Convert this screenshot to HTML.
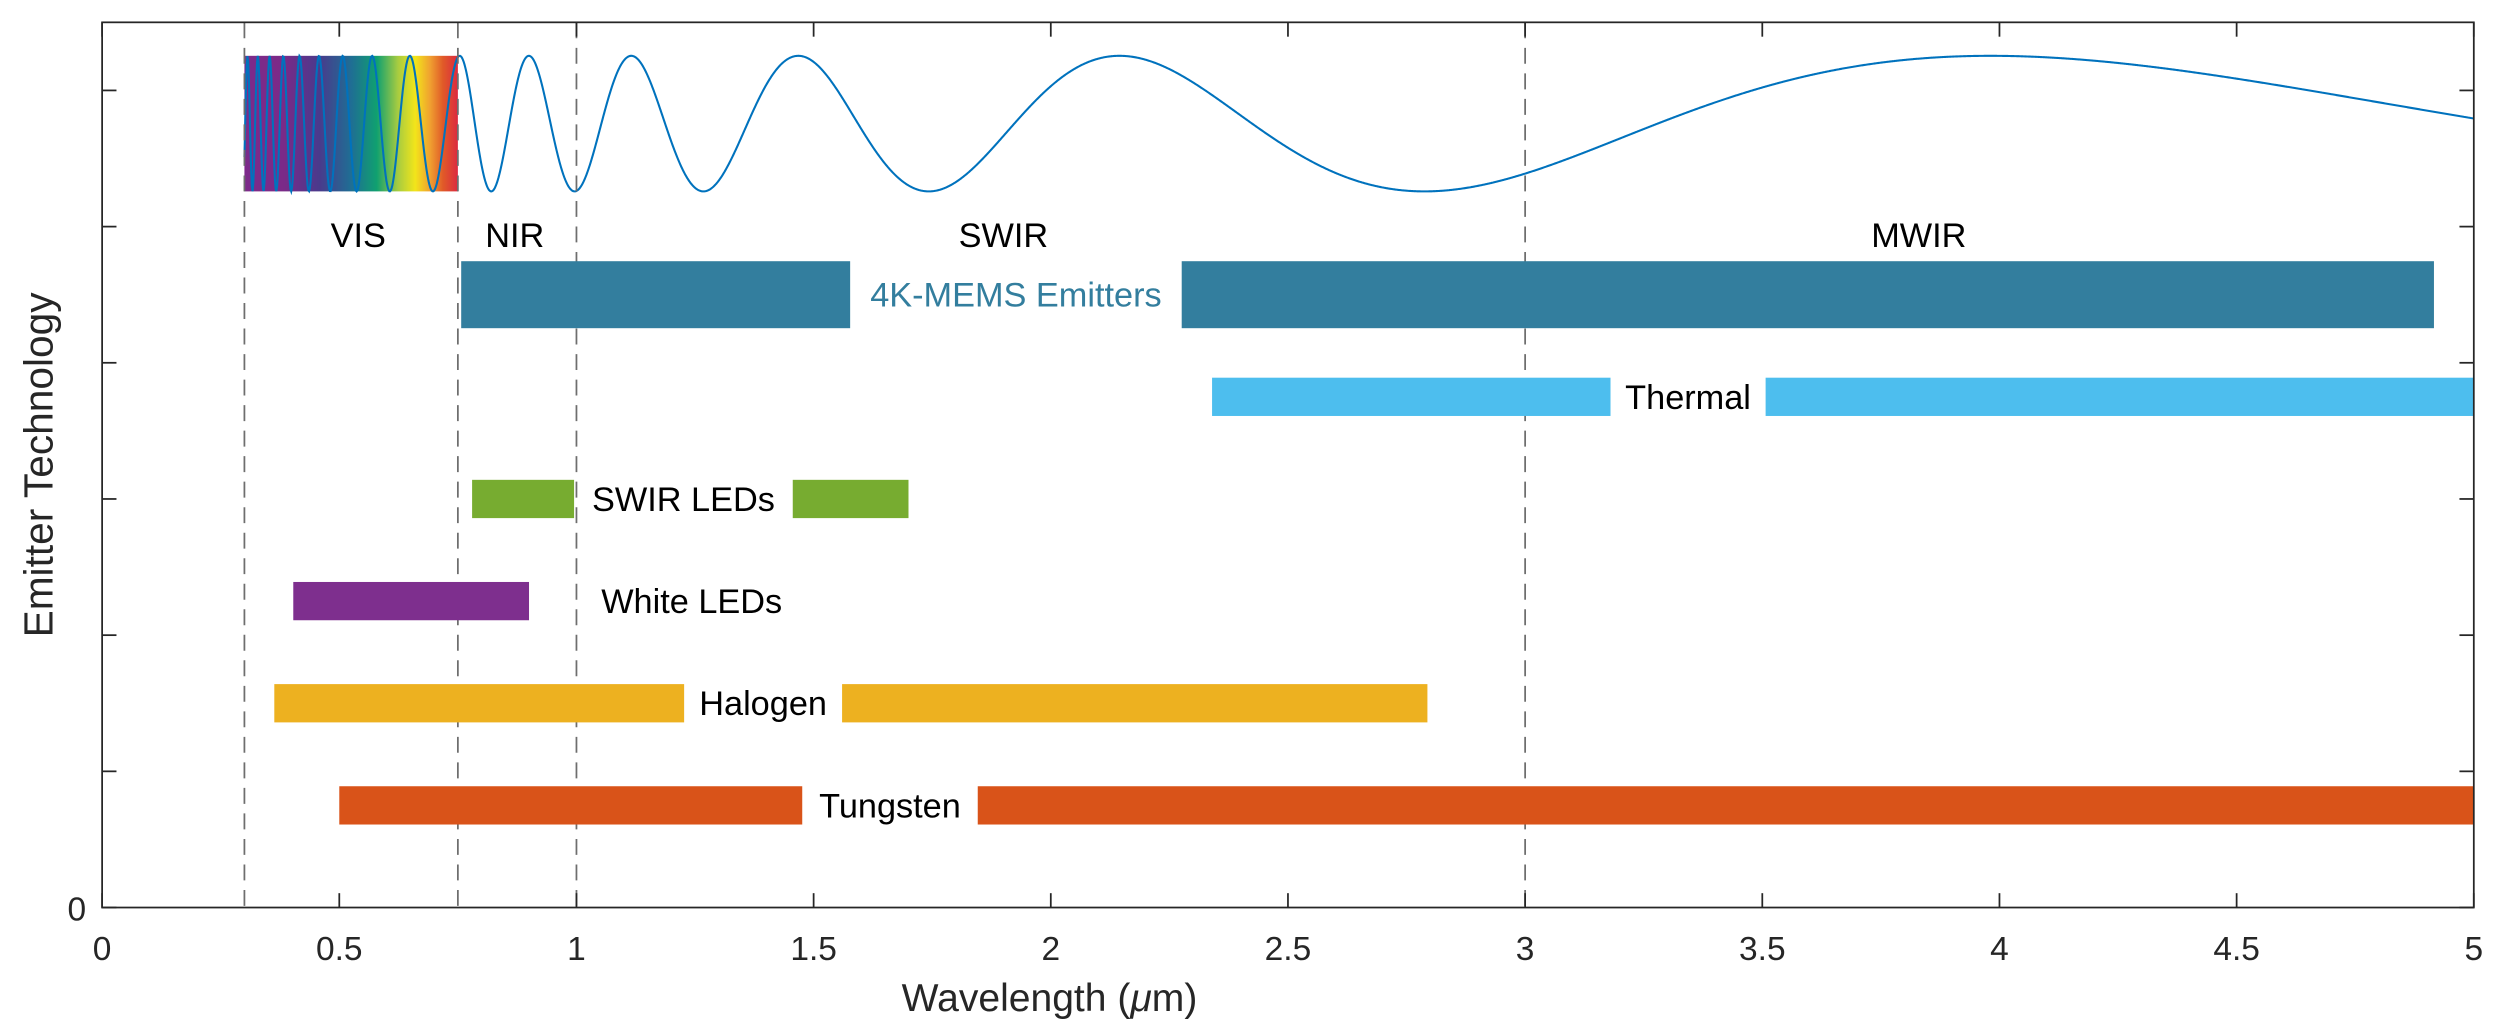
<!DOCTYPE html>
<html><head><meta charset="utf-8"><style>
html,body{margin:0;padding:0;background:#fff}
svg{display:block;font-family:"Liberation Sans","DejaVu Sans",sans-serif}
</style></head><body>
<svg id="chart" width="2500" height="1034" viewBox="0 0 1567.4 648.3" xmlns="http://www.w3.org/2000/svg">
<defs>
<linearGradient id="spec" x1="0" x2="1" y1="0" y2="0">
<stop offset="0" stop-color="#7d2a8a"/><stop offset="0.18" stop-color="#7b2a88"/>
<stop offset="0.35" stop-color="#4a3a8c"/><stop offset="0.5" stop-color="#1f6e94"/>
<stop offset="0.62" stop-color="#10a070"/><stop offset="0.72" stop-color="#a8cc40"/>
<stop offset="0.8" stop-color="#f2e51a"/><stop offset="0.87" stop-color="#f0a030"/>
<stop offset="0.93" stop-color="#e05a28"/><stop offset="1" stop-color="#dc2a40"/>
</linearGradient>
</defs>
<g id="plot"></g>
</svg>
<script>
const regionNames=["VIS","NIR","SWIR","MWIR"];
const regionLabelX=[0.54,0.87,1.9,3.83];
const boundaries=[0.3,0.75,1,3];
const techNames=["Tungsten","Halogen","White LEDs","SWIR LEDs","Thermal","4K-MEMS Emitters"];
const techLevel=[0.75,1.5,2.25,3.0,3.75,4.5];
const techStart1=[0.5,0.363,0.403,0.78,2.34,0.757];
const techEnd1=[1.476,1.227,0.9,0.995,3.18,1.577];
const techStart2=[1.846,1.56,null,1.456,3.507,2.276];
const techEnd2=[5,2.794,null,1.70,5,4.916];
const techColors=["#d95319","#edb120","#7e2f8e","#77ac30","#4dbeee","#337e9e"];
const xTicks=[0,0.5,1,1.5,2,2.5,3,3.5,4,4.5,5];
const xTickLabels=["0","0.5","1","1.5","2","2.5","3","3.5","4","4.5","5"];
const yTicks=[0,1,2,3,4,5,6];

const L=64,R=1551,T=14,B=569,YMAX=6.5;
const sx=v=>L+(R-L)*v/5, sy=v=>B-(B-T)*v/YMAX;
const NS="http://www.w3.org/2000/svg";
const g=document.getElementById('plot');
function mk(tag,attrs,parent){const e=document.createElementNS(NS,tag);for(const k in attrs)e.setAttribute(k,attrs[k]);(parent||g).appendChild(e);return e;}

let sp=mk('rect',{x:sx(0.3),y:35,width:sx(0.75)-sx(0.3),height:85,fill:'url(#spec)'});



let d='';
for(let i=0;i<=3000;i++){const lam=0.3+4.7*i/3000;const ph=4.65/lam-0.168;const y=77.5-42.5*Math.cos(2*Math.PI*ph);d+=(i?'L':'M')+sx(lam).toFixed(2)+','+y.toFixed(2);}
let wv=mk('path',{d:d,fill:'none',stroke:'#0072bd','stroke-width':1.3});



boundaries.forEach(b=>{
 let l=mk('line',{x1:sx(b),x2:sx(b),y1:T,y2:B,stroke:'#6e6e6e','stroke-width':1.1,'stroke-dasharray':'10,6'});
 
 
});
regionNames.forEach((n,i)=>{
 let t=mk('text',{x:sx(regionLabelX[i]),y:155,'font-size':21.5,'text-anchor':'middle',fill:'#000'});t.textContent=n;
 
 
});

techNames.forEach((n,i)=>{
 const h=i==5?42:24, yc=sy(techLevel[i]);
 let b1=mk('rect',{x:sx(techStart1[i]),y:yc-h/2,width:sx(techEnd1[i])-sx(techStart1[i]),height:h,fill:techColors[i]});
 
 
 let lx;
 if(techStart2[i]!==null){
  let b2=mk('rect',{x:sx(techStart2[i]),y:yc-h/2,width:sx(techEnd2[i])-sx(techStart2[i]),height:h,fill:techColors[i]});
  
  
  lx=(sx(techEnd1[i])+sx(techStart2[i]))/2;
 } else lx=sx(techEnd1[i])+102;
 let t=mk('text',{x:lx,y:yc+7.5,'font-size':21.5,'text-anchor':'middle',fill:i==5?'#337e9e':'#000'});t.textContent=n;
 
 
});

let bx=mk('rect',{x:L,y:T,width:R-L,height:B-T,fill:'none',stroke:'#262626','stroke-width':1.1});


xTicks.forEach((v,i)=>{
 mk('line',{x1:sx(v),x2:sx(v),y1:B,y2:B-9,stroke:'#262626','stroke-width':1.1});
 mk('line',{x1:sx(v),x2:sx(v),y1:T,y2:T+9,stroke:'#262626','stroke-width':1.1});
 let t=mk('text',{x:sx(v),y:B+33,'font-size':21,'text-anchor':'middle',fill:'#262626'});t.textContent=xTickLabels[i];
 
 
});
yTicks.forEach(v=>{
 mk('line',{x1:L,x2:L+9,y1:sy(v),y2:sy(v),stroke:'#262626','stroke-width':1.1});
 mk('line',{x1:R,x2:R-9,y1:sy(v),y2:sy(v),stroke:'#262626','stroke-width':1.1});
});
let y0=mk('text',{x:54,y:B+8,'font-size':21,'text-anchor':'end',fill:'#262626'});y0.textContent='0';


let xt=mk('text',{x:658,y:634,'font-size':24.5,'text-anchor':'middle',fill:'#262626'});
xt.innerHTML='Wavelength (<tspan font-style="italic">μ</tspan>m)';


let yt=mk('text',{x:0,y:0,'font-size':25.5,'text-anchor':'middle',fill:'#262626',transform:'translate(33,'+((T+B)/2)+') rotate(-90)'});
yt.textContent='Emitter Technology';


</script>
</body></html>
